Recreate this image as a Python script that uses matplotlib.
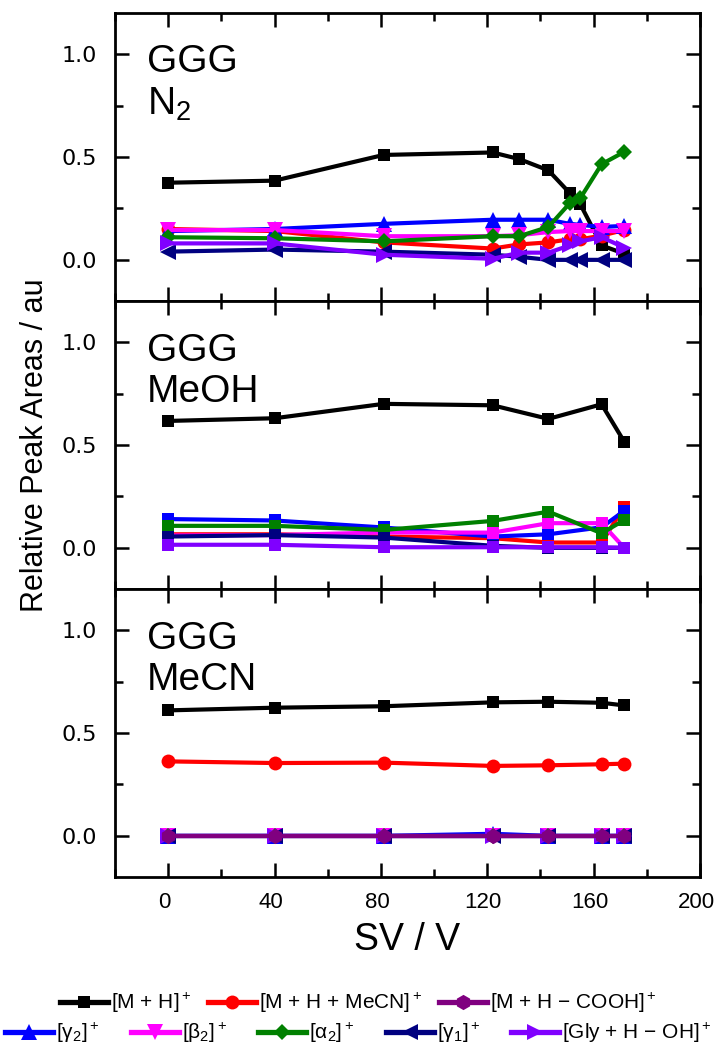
import matplotlib
matplotlib.use('Agg')
import matplotlib.pyplot as plt
import matplotlib.transforms as mtransforms
from matplotlib.ticker import MultipleLocator, FixedLocator
from matplotlib.lines import Line2D

FONT = 'Liberation Sans'
plt.rcParams['font.family'] = [FONT, 'DejaVu Sans']
plt.rcParams['mathtext.fontset'] = 'custom'
plt.rcParams['mathtext.rm'] = FONT
plt.rcParams['mathtext.it'] = FONT
plt.rcParams['mathtext.bf'] = FONT

# ---------------- data ----------------
series_labels = ['[M + H]$^+$', '[M + H + MeCN]$^+$', '[M + H − COOH]$^+$',
                 '[γ$_2$]$^+$', '[β$_2$]$^+$', '[α$_2$]$^+$', '[γ$_1$]$^+$',
                 '[Gly + H − OH]$^+$']
series_colors = ['#000000', '#FF0000', '#800080', '#0000FF', '#FF00FF',
                 '#008000', '#000080', '#8000FF']
series_markers = ['s', 'o', 'h', '^', 'v', 'D', '<', '>']

panel_titles = ['GGG\nN$_2$', 'GGG\nMeOH', 'GGG\nMeCN']

# N2
sv_n2 = [0, 40, 81, 122, 132, 143, 151, 155, 163, 171.5]
n2_mh = [0.375, 0.385, 0.51, 0.522, 0.49, 0.435, 0.325, 0.27, 0.07, 0.03]
n2_mh_mecn = [0.15, 0.14, 0.085, 0.055, 0.075, 0.085, 0.10, 0.10, 0.118, 0.145]
n2_gamma2 = [0.14, 0.15, 0.175, 0.195, 0.195, 0.195, 0.175, 0.17, 0.16, 0.165]
n2_beta2 = [0.145, 0.145, 0.115, 0.115, 0.12, 0.135, 0.14, 0.14, 0.14, 0.14]
n2_alpha2 = [0.11, 0.105, 0.09, 0.115, 0.115, 0.16, 0.275, 0.30, 0.465, 0.525]
n2_gamma1 = [0.04, 0.05, 0.04, 0.025, 0.015, 0.0, 0.0, 0.0, 0.0, 0.0]
n2_gly = [0.08, 0.08, 0.025, 0.005, 0.035, 0.035, 0.07, 0.09, 0.11, 0.06]

# MeOH
sv_meoh = [0, 40, 81, 122, 143, 163, 171.5]
meoh_mh = [0.617, 0.63, 0.70, 0.693, 0.627, 0.698, 0.516]
meoh_mh_mecn = [0.066, 0.066, 0.055, 0.047, 0.026, 0.026, 0.20]
meoh_gamma2 = [0.14, 0.133, 0.099, 0.055, 0.066, 0.10, 0.18]
meoh_beta2 = [0.06, 0.062, 0.075, 0.074, 0.12, 0.12, 0.0]
meoh_alpha2 = [0.107, 0.107, 0.087, 0.131, 0.176, 0.071, 0.135]
meoh_gamma1 = [0.055, 0.062, 0.05, 0.01, 0.0, 0.0, 0.0]
meoh_gly = [0.015, 0.015, 0.003, 0.003, 0.003, 0.003, 0.0]

# MeCN
sv_mecn = [0, 40, 81, 122, 143, 163, 171.5]
mecn_mh = [0.61, 0.623, 0.63, 0.649, 0.652, 0.647, 0.634]
mecn_mh_mecn = [0.362, 0.354, 0.356, 0.34, 0.343, 0.348, 0.351]
mecn_mh_cooh = [0.0, 0.0, 0.0, 0.0, 0.0, 0.0, 0.0]
mecn_gamma2 = [0.0, 0.0, 0.0, 0.01, 0.0, 0.0, 0.0]
mecn_beta2 = [0.0, 0.0, 0.0, 0.0, 0.0, 0.0, 0.0]
mecn_alpha2 = [0.0, 0.0, 0.0, 0.0, 0.0, 0.0, 0.0]
mecn_gamma1 = [0.0, 0.0, 0.0, 0.0, 0.0, 0.0, 0.0]
mecn_gly = [0.0, 0.0, 0.0, 0.0, 0.0, 0.0, 0.0]

panels = [
    (sv_n2, [n2_mh, n2_mh_mecn, None, n2_gamma2, n2_beta2, n2_alpha2, n2_gamma1, n2_gly], None),
    (sv_meoh, [meoh_mh, meoh_mh_mecn, None, meoh_gamma2, meoh_beta2, meoh_alpha2, meoh_gamma1, meoh_gly], 's'),
    (sv_mecn, [mecn_mh, mecn_mh_mecn, mecn_mh_cooh, mecn_gamma2, mecn_beta2, mecn_alpha2, mecn_gamma1, mecn_gly], None),
]

MARKER_SIZES = {'s': 9.0, 'o': 10.0, 'h': 11.0, '^': 11.0, 'v': 11.0,
                'D': 8.5, '<': 11.0, '>': 11.0}

# ---------------- figure ----------------
W, H = 717, 1051
fig = plt.figure(figsize=(W / 100, H / 100), dpi=100)
left = 115 / W
right = 700 / W
top_px, bot_px = 13, 877
ph = (bot_px - top_px) / 3

LW = 3.0
axes = []
for i, (xs, ys_list, mk_override) in enumerate(panels):
    y0 = 1 - (top_px + ph * (i + 1)) / H
    ax = fig.add_axes([left, y0, right - left, ph / H])
    axes.append(ax)
    for j, ys in enumerate(ys_list):
        if ys is None:
            continue
        mk = mk_override if mk_override else series_markers[j]
        z = 3 + j
        if i == 2 and j == 2:
            z = 20
        ax.plot(xs, ys, color=series_colors[j], marker=mk,
                markersize=MARKER_SIZES[mk], linewidth=LW,
                markeredgewidth=0, zorder=z)
    ax.set_xlim(-20, 200)
    ax.set_ylim(-0.2, 1.2)
    ax.xaxis.set_major_locator(MultipleLocator(40))
    ax.xaxis.set_minor_locator(MultipleLocator(20))
    ax.yaxis.set_major_locator(FixedLocator([0.0, 0.5, 1.0]))
    ax.yaxis.set_minor_locator(FixedLocator([0.25, 0.75]))
    ax.tick_params(which='both', direction='in', top=True, right=True,
                   width=1.8)
    ax.tick_params(which='major', length=10)
    ax.tick_params(which='minor', length=5.5)
    ax.tick_params(axis='y', labelsize=16, pad=13)
    for lab in ax.get_yticklabels():
        lab.set_fontfamily('DejaVu Sans')
    ax.tick_params(axis='x', labelsize=16, pad=11)
    if i < 2:
        ax.tick_params(axis='x', labelbottom=False)
    for sp in ax.spines.values():
        sp.set_linewidth(2.0)
    ax.text(0.055, 0.755, panel_titles[i], transform=ax.transAxes,
            fontsize=28, ha='left', va='center', linespacing=1.2)

# nudge x tick labels slightly left so that "200" stays inside the figure
shift = mtransforms.ScaledTranslation(-4 / 100, 0, fig.dpi_scale_trans)
for lab in axes[2].get_xticklabels():
    lab.set_transform(lab.get_transform() + shift)

axes[2].set_xlabel('SV / V', fontsize=27, labelpad=6)
fig.text(35 / W, 1 - 445 / H, 'Relative Peak Areas / au', rotation=90,
         fontsize=22, ha='center', va='center')

handles = []
for j in range(8):
    mk = series_markers[j]
    handles.append(Line2D([], [], color=series_colors[j], marker=mk,
                          markersize=MARKER_SIZES[mk], linewidth=LW + 0.8,
                          markeredgewidth=0))

fig.legend(handles[:3], series_labels[:3], ncol=3, loc='center',
           bbox_to_anchor=(0.5, 1 - 1003 / H), frameon=False, fontsize=15,
           handlelength=2.3, handletextpad=0.15, columnspacing=0.8,
           borderpad=0, borderaxespad=0)
fig.legend(handles[3:], series_labels[3:], ncol=5, loc='center',
           bbox_to_anchor=(0.5, 1 - 1033 / H), frameon=False, fontsize=15,
           handlelength=2.3, handletextpad=0.15, columnspacing=1.5,
           borderpad=0, borderaxespad=0)

fig.savefig('out.png', dpi=100)
